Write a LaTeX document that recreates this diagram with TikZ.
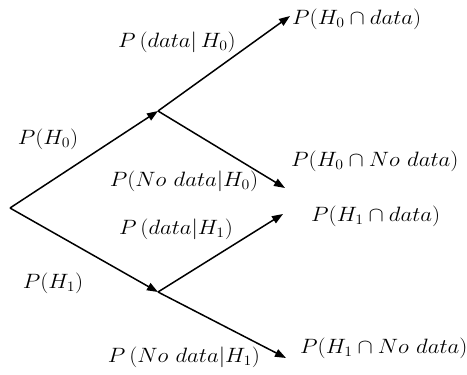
\documentclass[tikz,border=0pt]{standalone}
\usetikzlibrary{arrows.meta}
\newcommand{\wideTxt}[1]{\scalebox{1.1}[1]{#1}}
\begin{document}
\begin{tikzpicture}[x=1pt,y=-1pt,
  conn/.style={line width=1.5pt,-{Triangle[length=11pt,width=8pt]}},
  lbl/.style={font=\fontsize{22}{26}\selectfont,inner sep=0pt}]
\useasboundingbox (0,0) rectangle (467,375);
\coordinate (r) at (10,208);
\coordinate (m0) at (158,111);
\coordinate (m1) at (158,292);
\coordinate (e1) at (290,16);
\coordinate (e2) at (285,188);
\coordinate (e3) at (283,214);
\coordinate (e4) at (286,358);
\draw[conn] (r) -- (m0);
\draw[conn] (r) -- (m1);
\draw[conn] (m0) -- (e1);
\draw[conn] (m0) -- (e2);
\draw[conn] (m1) -- (e3);
\draw[conn] (m1) -- (e4);
\node[lbl,anchor=west] (t1) at (292,19) {\wideTxt{$P(H_0\cap data)$}};
\node[lbl,anchor=west] (t2) at (291,161) {\wideTxt{$P(H_0\cap No\ data)$}};
\node[lbl,anchor=west] (t3) at (311,216) {\wideTxt{$P(H_1\cap data)$}};
\node[lbl,anchor=west] (t4) at (300,348) {\wideTxt{$P(H_1\cap No\ data)$}};
\node[lbl] (l1) at (177,42) {\wideTxt{$P\,(data|\,H_0)$}};
\node[lbl] (l2) at (184,181) {\wideTxt{$P(No\ data|H_0)$}};
\node[lbl] (l3) at (176,229) {\wideTxt{$P\,(data|H_1)$}};
\node[lbl] (l4) at (184,357) {\wideTxt{$P\,(No\ data|H_1)$}};
\node[lbl] (l5) at (48,139) {\wideTxt{$P(H_0)$}};
\node[lbl] (l6) at (53,283) {\wideTxt{$P(H_1)$}};
\end{tikzpicture}
\end{document}
